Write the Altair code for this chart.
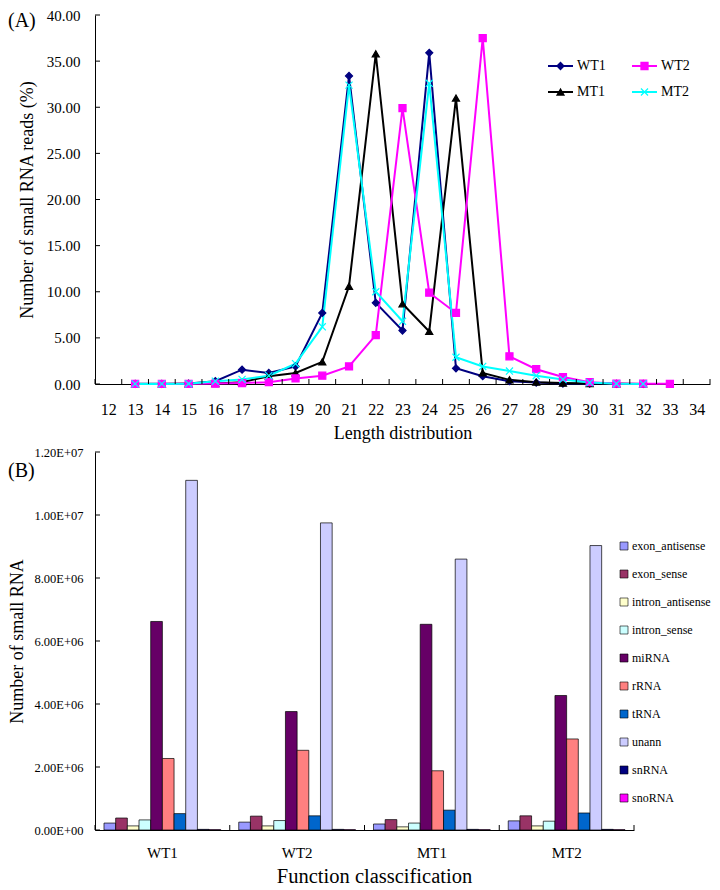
import altair as alt
import pandas as pd

FONT = "Liberation Serif"

# ---------------- Panel A data (length distribution, % of reads) ----------------
length_ticks = list(range(12, 35))
start_len = 13
wt1 = [0.02, 0.02, 0.05, 0.30, 1.55, 1.20, 1.90, 7.70, 33.40, 8.80, 5.80, 35.90,
       1.70, 0.85, 0.30, 0.15, 0.05, 0.03, 0.02, 0.01]
mt1 = [0.01, 0.01, 0.02, 0.05, 0.20, 0.85, 1.20, 2.40, 10.60, 35.80, 8.70, 5.70,
       31.00, 1.20, 0.45, 0.20, 0.10, 0.05, 0.02, 0.01]
wt2 = [0.01, 0.01, 0.02, 0.05, 0.10, 0.20, 0.60, 0.90, 1.90, 5.30, 29.90, 9.90,
       7.70, 37.50, 3.00, 1.60, 0.75, 0.20, 0.05, 0.03, 0.02]
mt2 = [0.01, 0.01, 0.03, 0.30, 0.50, 0.90, 2.20, 6.20, 32.40, 10.00, 6.80, 32.60,
       2.90, 1.90, 1.40, 0.90, 0.50, 0.15, 0.03, 0.01]
series_names = ["WT1", "WT2", "MT1", "MT2"]
series_colors = ["#000080", "#FF00FF", "#000000", "#00FFFF"]
series_shapes = ["diamond", "square", "triangle-up", "M-1,-1L1,1M-1,1L1,-1"]
y_ticks_a = [0, 5, 10, 15, 20, 25, 30, 35, 40]

# ---------------- Panel B data (function classification) ----------------
samples = ["WT1", "WT2", "MT1", "MT2"]
classes = ["exon_antisense", "exon_sense", "intron_antisense", "intron_sense", "miRNA",
           "rRNA", "tRNA", "unann", "snRNA", "snoRNA"]
class_colors = ["#9999FF", "#993366", "#FFFFCC", "#CCFFFF", "#660066",
                "#FF8080", "#0066CC", "#CCCCFF", "#000080", "#FF00FF"]
counts_wt1 = [0.22e6, 0.38e6, 0.13e6, 0.32e6, 6.62e6, 2.27e6, 0.52e6, 11.10e6, 0.02e6, 0.01e6]
counts_wt2 = [0.25e6, 0.44e6, 0.13e6, 0.30e6, 3.76e6, 2.53e6, 0.45e6, 9.75e6, 0.02e6, 0.01e6]
counts_mt1 = [0.19e6, 0.33e6, 0.10e6, 0.22e6, 6.53e6, 1.88e6, 0.63e6, 8.60e6, 0.02e6, 0.01e6]
counts_mt2 = [0.29e6, 0.45e6, 0.13e6, 0.28e6, 4.27e6, 2.89e6, 0.54e6, 9.03e6, 0.02e6, 0.01e6]
y_ticks_b = [0, 2e6, 4e6, 6e6, 8e6, 10e6, 12e6]
panel_labels = ["(A)", "(B)"]

# ---------------- tables ----------------
rows = []
for name, vals in zip(["WT1", "MT1", "WT2", "MT2"], [wt1, mt1, wt2, mt2]):
    for i, v in enumerate(vals):
        rows.append({"series": name, "length": start_len + i, "pct": v})
df_a = pd.DataFrame(rows)

rows = []
for s, vals in zip(samples, [counts_wt1, counts_wt2, counts_mt1, counts_mt2]):
    for c, v in zip(classes, vals):
        rows.append({"sample": s, "cls": c, "count": v})
df_b = pd.DataFrame(rows)

W_A, H_A = 615, 369
W_B, H_B = 539, 378

# ---------------- Panel A ----------------
col_scale = alt.Scale(domain=series_names, range=series_colors)
shape_scale = alt.Scale(domain=series_names, range=series_shapes)

xa = alt.X("length:Q", scale=alt.Scale(domain=[11.5, 34.5], nice=False, zero=False),
           axis=alt.Axis(values=length_ticks, format="d", ticks=False, tickSize=0, grid=False,
                         labelFlush=False, labelPadding=17, labelFontSize=16,
                         title="Length distribution", titleFontSize=18, titlePadding=7))
ya = alt.Y("pct:Q", scale=alt.Scale(domain=[0, 40], nice=False),
           axis=alt.Axis(values=y_ticks_a, format=".2f", ticks=False, tickSize=0, grid=False,
                         labelPadding=15, labelFontSize=15,
                         title="Number of small RNA reads (%)", titleFontSize=18, titlePadding=10))

lines = alt.Chart(df_a).mark_line(strokeWidth=2).encode(
    x=xa, y=ya, color=alt.Color("series:N", scale=col_scale, legend=None))
points = alt.Chart(df_a).mark_point(size=50, strokeWidth=1.2, opacity=1).encode(
    x=xa, y=ya,
    fill=alt.Fill("series:N", scale=col_scale, legend=None),
    stroke=alt.Stroke("series:N", scale=col_scale, legend=None),
    shape=alt.Shape("series:N", scale=shape_scale, legend=None))

ytick_a = alt.Chart(pd.DataFrame({"pct": y_ticks_a})).mark_rule(color="black").encode(
    y=ya, x=alt.value(0), x2=alt.value(5))
bounds_a = [l - 0.5 for l in length_ticks] + [length_ticks[-1] + 0.5]
xtick_a = alt.Chart(pd.DataFrame({"length": bounds_a})).mark_rule(color="black").encode(
    x=xa, y=alt.value(H_A - 5), y2=alt.value(H_A))

# manual legend (line + marker + label), two columns
leg = pd.DataFrame({"name": series_names, "color": series_colors, "shape": series_shapes})
leg["col"] = [i % 2 for i in range(len(series_names))]
leg["row"] = [i // 2 for i in range(len(series_names))]
leg["lx"] = 453 + leg["col"] * 84
leg["lx2"] = leg["lx"] + 25
leg["mx"] = leg["lx"] + 12.5
leg["tx"] = leg["lx"] + 29
leg["ly"] = 51 + leg["row"] * 26

leg_line = alt.Chart(leg).mark_rule(strokeWidth=2).encode(
    x=alt.X("lx:Q", scale=None, axis=None), x2="lx2:Q",
    y=alt.Y("ly:Q", scale=None, axis=None),
    color=alt.Color("color:N", scale=None))
leg_pt = alt.Chart(leg).mark_point(size=50, strokeWidth=1.2, opacity=1).encode(
    x=alt.X("mx:Q", scale=None, axis=None), y=alt.Y("ly:Q", scale=None, axis=None),
    fill=alt.Fill("color:N", scale=None), stroke=alt.Stroke("color:N", scale=None),
    shape=alt.Shape("shape:N", scale=None))
leg_txt = alt.Chart(leg).mark_text(align="left", baseline="middle", font=FONT,
                                   fontSize=14, color="black").encode(
    x=alt.X("tx:Q", scale=None, axis=None), y=alt.Y("ly:Q", scale=None, axis=None),
    text="name:N")

lab_a = alt.Chart(pd.DataFrame({"t": [panel_labels[0]]})).mark_text(
    align="left", baseline="middle", font=FONT, fontSize=20, color="black").encode(
    x=alt.value(-87), y=alt.value(6), text="t:N")

chart_a = alt.layer(lines, points, ytick_a, xtick_a, leg_line, leg_pt, leg_txt, lab_a).properties(
    width=W_A, height=H_A)

# ---------------- Panel B ----------------
label_expr = ("datum.value == 0 ? '0.00E+00' : "
              "format(datum.value / pow(10, floor(log(datum.value) / LN10 + 1e-9)), '.2f')"
              " + 'E+0' + floor(log(datum.value) / LN10 + 1e-9)")
yb = alt.Y("count:Q", scale=alt.Scale(domain=[0, 1.2e7], nice=False),
           axis=alt.Axis(values=y_ticks_b, labelExpr=label_expr, ticks=False, tickSize=0,
                         grid=False, labelPadding=12, labelFontSize=12.5,
                         title="Number of small RNA", titleFontSize=18, titlePadding=7))
xb = alt.X("sample:N", sort=samples,
           scale=alt.Scale(paddingInner=0.1334, paddingOuter=0.0667),
           axis=alt.Axis(labelAngle=0, ticks=False, tickSize=0, labelPadding=15,
                         labelFontSize=15, title="Function classcification",
                         titleFontSize=20.5, titlePadding=6, titleX=279))
bars = alt.Chart(df_b).mark_bar(stroke="black", strokeWidth=0.7).encode(
    x=xb,
    xOffset=alt.XOffset("cls:N", sort=classes, scale=alt.Scale(paddingInner=0, paddingOuter=0)),
    y=yb,
    color=alt.Color("cls:N", sort=classes,
                    scale=alt.Scale(domain=classes, range=class_colors), legend=None))
ytick_b = alt.Chart(pd.DataFrame({"count": y_ticks_b})).mark_rule(color="black").encode(
    y=yb, x=alt.value(0), x2=alt.value(5))
xtick_b = alt.Chart(pd.DataFrame({"b": list(range(len(samples) + 1))})).mark_rule(color="black").encode(
    x=alt.X("b:Q", scale=alt.Scale(domain=[0, len(samples)], nice=False, zero=False), axis=None),
    y=alt.value(H_B - 5), y2=alt.value(H_B))
lab_b = alt.Chart(pd.DataFrame({"t": [panel_labels[1]]})).mark_text(
    align="left", baseline="middle", font=FONT, fontSize=20, color="black").encode(
    x=alt.value(-87), y=alt.value(19), text="t:N")

# manual legend for classes (one column)
legb = pd.DataFrame({"name": classes, "color": class_colors})
legb["sx"] = 529
legb["tx"] = legb["sx"] + 8
legb["sy"] = [94 + 28 * i for i in range(len(classes))]
legb_sq = alt.Chart(legb).mark_point(shape="square", size=64, stroke="black",
                                     strokeWidth=0.6, opacity=1).encode(
    x=alt.X("sx:Q", scale=None, axis=None), y=alt.Y("sy:Q", scale=None, axis=None),
    fill=alt.Fill("color:N", scale=None))
legb_txt = alt.Chart(legb).mark_text(align="left", baseline="middle", font=FONT,
                                     fontSize=12, color="black").encode(
    x=alt.X("tx:Q", scale=None, axis=None), y=alt.Y("sy:Q", scale=None, axis=None),
    text="name:N")

chart_b = alt.layer(bars, ytick_b, lab_b, legb_sq, legb_txt, xtick_b).resolve_scale(
    x="independent").properties(width=W_B, height=H_B)

chart = alt.vconcat(chart_a, chart_b, spacing=68, bounds="flush").resolve_scale(
    color="independent", fill="independent", stroke="independent", shape="independent"
).properties(
    padding={"left": 0, "top": 0, "right": 0, "bottom": 0}
).configure(font=FONT).configure_view(stroke=None).configure_axis(
    labelFont=FONT, titleFont=FONT, labelColor="black", titleColor="black",
    domainColor="black", domainWidth=1, titleFontWeight="normal", grid=False
)

chart.save("out.html", embed_options={"renderer": "svg", "actions": False})
